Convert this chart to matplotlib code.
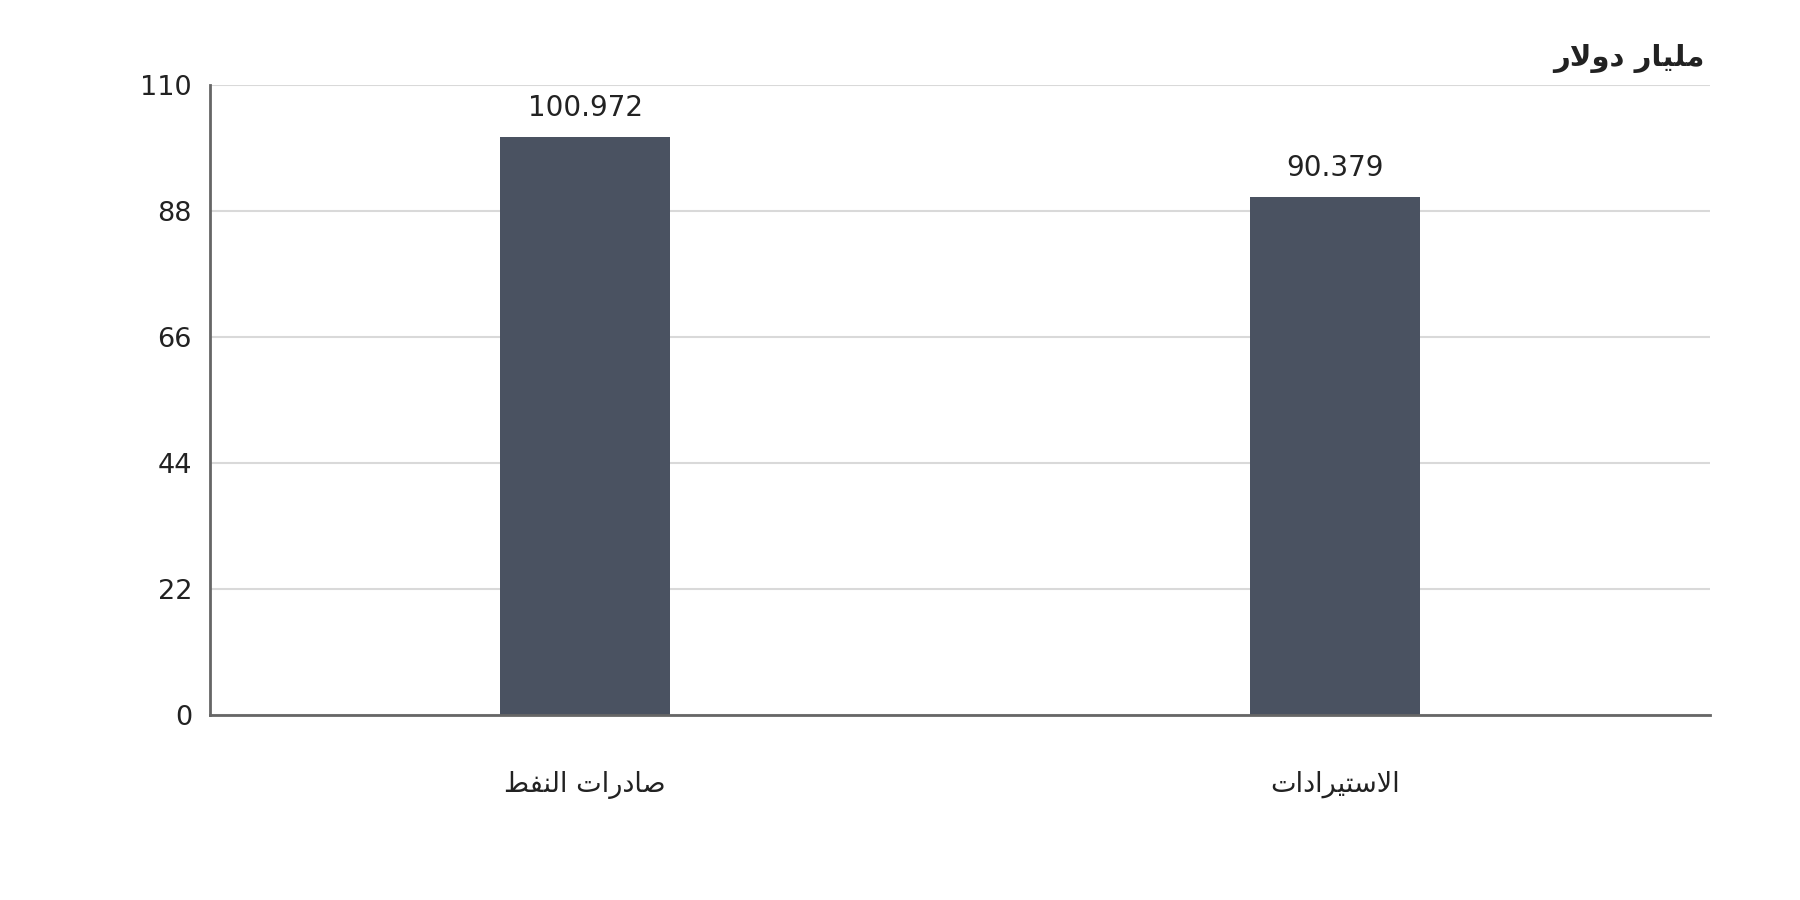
import matplotlib
matplotlib.use("Agg")
import matplotlib.pyplot as plt

# Arabic labels written in presentation forms, visual (left-to-right) order,
# because matplotlib does no Arabic shaping or bidi reordering.
def visual(s):
    return s[::-1]

categories = [
    visual("\uFEBB\uFE8E\uFEA9\uFEAD\uFE8D\uFE95 \uFE8D\uFEDF\uFEE8\uFED4\uFEC2"),  # صادرات النفط
    visual("\uFE8D\uFEFB\uFEB3\uFE98\uFEF4\uFEAE\uFE8D\uFEA9\uFE8D\uFE95"),          # الاستيرادات
]
values = [100.972, 90.379]
value_labels = ["100.972", "90.379"]
yticks = [0, 22, 44, 66, 88, 110]
unit = visual("\uFEE3\uFEE0\uFEF4\uFE8E\uFEAD \uFEA9\uFEED\uFEFB\uFEAD")  # مليار دولار

plt.rcParams['font.family'] = ['DejaVu Sans']

fig = plt.figure(figsize=(18, 9), dpi=100)
ax = fig.add_axes([0.1167, 0.2054, 0.8333, 0.7002])

x = list(range(len(values)))
bars = ax.bar(x, values, width=0.227, color="#4a5261", zorder=3)

for b, lab in zip(bars, value_labels):
    ax.text(b.get_x() + b.get_width() / 2, b.get_height() + 2.6, lab,
            ha="center", va="bottom", fontsize=20, color="#222222")

ax.set_xlim(-0.5, 1.5)
ax.set_ylim(0, 110)
ax.set_yticks(yticks)
ax.set_yticklabels([str(t) for t in yticks], fontsize=19.5, color="#222222")
ax.set_xticks(x)
ax.set_xticklabels(categories, fontsize=19.5, color="#222222")
ax.tick_params(axis="x", length=0, pad=40)
ax.tick_params(axis="y", length=0, pad=13)

ax.grid(axis="y", color="#d9d9d9", linewidth=1.5, zorder=0)
for s in ["top", "right"]:
    ax.spines[s].set_visible(False)
for s in ["left", "bottom"]:
    ax.spines[s].set_color("#666666")
    ax.spines[s].set_linewidth(2)
    ax.spines[s].set_zorder(4)

fig.text(0.947, 0.935, unit, ha="right", va="center", fontsize=21,
         fontweight="bold", color="#222222")

fig.savefig("out.png", dpi=100, facecolor="white")
